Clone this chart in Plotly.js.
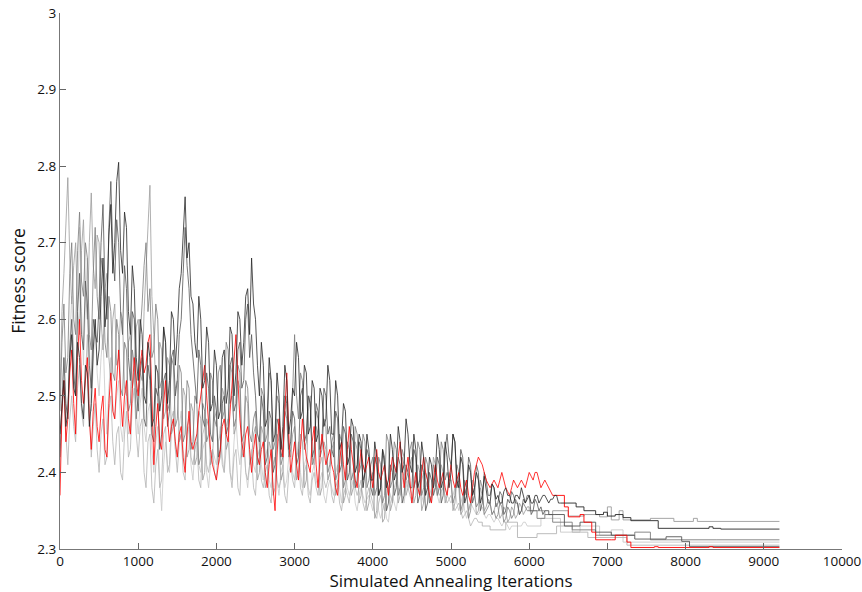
<!DOCTYPE html>
<html>
<head>
<meta charset="utf-8">
<script src="https://cdn.plot.ly/plotly-3.0.1.min.js"></script>
<style>html,body{margin:0;padding:0;background:#fff}#chart{width:862px;height:592px}</style>
</head>
<body>
<div id="chart"></div>
<script>
// iteration spacing of the noisy samples
const sampleStep = 25;
const xTicks = [0,1000,2000,3000,4000,5000,6000,7000,8000,9000,10000];
const yTicks = [2.3,2.4,2.5,2.6,2.7,2.8,2.9,3];

// Run A (black)
const runA = [
2.45,2.49,2.52,2.46,2.48,2.55,2.58,2.51,2.50,2.57,2.55,2.49,2.47,2.54,2.53,2.46,2.49,2.56,2.60,2.54,
2.56,2.63,2.68,2.59,2.62,2.71,2.75,2.66,2.70,2.78,2.805,2.69,2.66,2.74,2.72,2.61,2.58,2.67,2.64,2.55,
2.52,2.60,2.58,2.50,2.49,2.57,2.55,2.46,2.47,2.54,2.53,2.48,2.50,2.59,2.57,2.49,2.52,2.61,2.60,2.54,
2.58,2.64,2.66,2.71,2.76,2.68,2.70,2.63,2.62,2.57,2.55,2.63,2.60,2.51,2.52,2.59,2.57,2.48,2.49,2.56,
2.54,2.47,2.48,2.55,2.56,2.49,2.51,2.59,2.58,2.50,2.53,2.61,2.60,2.54,2.57,2.63,2.64,2.58,2.68,2.62,
2.60,2.54,2.50,2.57,2.54,2.46,2.47,2.55,2.52,2.44,2.45,2.53,2.50,2.43,2.46,2.54,2.52,2.45,2.47,2.51,
2.50,2.57,2.55,2.47,2.48,2.54,2.53,2.45,2.46,2.52,2.51,2.44,2.45,2.51,2.50,2.46,2.47,2.54,2.52,2.45,
2.45,2.52,2.50,2.43,2.44,2.49,2.48,2.41,2.42,2.47,2.46,2.40,2.41,2.45,2.44,2.38,2.40,2.45,2.43,2.39,
2.39,2.44,2.42,2.37,2.38,2.43,2.41,2.38,2.39,2.45,2.43,2.39,2.40,2.46,2.44,2.40,2.41,2.47,2.45,2.41,
2.40,2.45,2.43,2.38,2.39,2.44,2.42,2.37,2.38,2.42,2.41,2.38,2.40,2.45,2.43,2.38,2.39,2.44,2.42,2.38,
2.40,2.45,2.44,2.39,2.38,2.42,2.41,2.36,2.37,2.41,2.40,2.37,2.38,2.40,2.39,2.36,2.37,2.395,2.38,2.36,
2.36,2.385,2.38,2.365,2.37,2.36,2.36,2.375,2.38,2.37,2.37,2.36,2.36,2.37,2.37,2.365,2.38,2.37,2.36,2.365,
2.37,2.36,2.36,2.37,2.37,2.36,2.365,2.37,2.37,2.365,2.36,2.365,2.365,2.37,2.37,2.36,2.36];
const runATailX = [6450,6600,6700,6850,6950,7000,7100,7200,7300,7650,8300,8350,8450,9200];
const runATailY = [2.36,2.355,2.35,2.345,2.348,2.343,2.345,2.341,2.337,2.327,2.329,2.327,2.326,2.326];

// Run B (dark gray)
const runB = [
2.42,2.50,2.55,2.49,2.47,2.56,2.60,2.53,2.50,2.61,2.66,2.58,2.56,2.65,2.62,2.54,2.51,2.60,2.58,2.57,
2.62,2.70,2.75,2.64,2.60,2.72,2.78,2.69,2.65,2.73,2.70,2.61,2.58,2.67,2.64,2.55,2.52,2.61,2.60,2.51,
2.48,2.53,2.55,2.47,2.46,2.54,2.52,2.45,2.44,2.51,2.50,2.43,2.45,2.52,2.53,2.46,2.48,2.55,2.56,2.50,
2.52,2.58,2.60,2.66,2.72,2.67,2.64,2.58,2.55,2.51,2.49,2.56,2.54,2.47,2.46,2.53,2.51,2.45,2.44,2.50,
2.48,2.42,2.43,2.49,2.50,2.45,2.46,2.54,2.55,2.48,2.49,2.56,2.57,2.51,2.52,2.60,2.62,2.55,2.58,2.53,
2.50,2.45,2.44,2.50,2.48,2.41,2.42,2.48,2.47,2.40,2.41,2.47,2.46,2.42,2.43,2.50,2.49,2.43,2.44,2.48,
2.47,2.41,2.42,2.50,2.51,2.44,2.45,2.50,2.49,2.42,2.43,2.49,2.48,2.43,2.44,2.51,2.50,2.45,2.46,2.43,
2.42,2.48,2.47,2.40,2.41,2.46,2.45,2.39,2.40,2.45,2.44,2.38,2.39,2.44,2.43,2.39,2.40,2.43,2.42,2.38,
2.37,2.42,2.41,2.37,2.38,2.43,2.42,2.35,2.36,2.41,2.40,2.37,2.38,2.42,2.41,2.36,2.37,2.41,2.40,2.38,
2.38,2.43,2.42,2.36,2.37,2.41,2.40,2.35,2.36,2.40,2.39,2.37,2.38,2.42,2.41,2.36,2.37,2.43,2.45,2.42,
2.41,2.45,2.44,2.38,2.39,2.43,2.42,2.37,2.38,2.42,2.41,2.36,2.37,2.41,2.40,2.35,2.36,2.40,2.39,2.37,
2.37,2.385,2.38,2.355,2.36,2.375,2.37,2.345,2.35,2.365,2.36,2.375,2.37,2.36,2.36,2.345,2.35,2.365,2.36,2.37,
2.37,2.345,2.35,2.365,2.36,2.35,2.355,2.345,2.35];
const runBTailX = [6250,6450,6650,6850,7050,7350,7750,7950,8050,9200];
const runBTailY = [2.345,2.33,2.335,2.322,2.318,2.313,2.316,2.31,2.303,2.303];

// Run C (medium gray)
const runC = [
2.48,2.57,2.62,2.53,2.55,2.66,2.70,2.60,2.58,2.69,2.74,2.65,2.63,2.70,2.68,2.58,2.56,2.66,2.72,2.63,
2.60,2.68,2.66,2.57,2.55,2.63,2.61,2.53,2.52,2.60,2.58,2.51,2.50,2.57,2.56,2.48,2.49,2.56,2.54,2.47,
2.50,2.58,2.62,2.67,2.70,2.61,2.64,2.55,2.56,2.62,2.60,2.51,2.52,2.59,2.57,2.48,2.49,2.55,2.54,2.46,
2.47,2.54,2.53,2.44,2.45,2.52,2.51,2.43,2.44,2.50,2.49,2.41,2.42,2.49,2.48,2.44,2.45,2.53,2.52,2.47,
2.46,2.53,2.54,2.47,2.48,2.57,2.56,2.49,2.50,2.46,2.47,2.54,2.53,2.44,2.45,2.52,2.51,2.45,2.44,2.47,
2.48,2.41,2.42,2.51,2.50,2.44,2.45,2.53,2.52,2.43,2.44,2.50,2.49,2.41,2.42,2.48,2.47,2.42,2.43,2.52,
2.58,2.50,2.47,2.53,2.52,2.43,2.44,2.50,2.49,2.41,2.42,2.48,2.47,2.42,2.43,2.47,2.46,2.40,2.41,2.44,
2.45,2.39,2.40,2.45,2.44,2.38,2.39,2.44,2.43,2.39,2.40,2.46,2.45,2.40,2.41,2.45,2.44,2.38,2.39,2.41,
2.42,2.37,2.38,2.42,2.41,2.36,2.37,2.45,2.44,2.38,2.39,2.44,2.43,2.37,2.38,2.43,2.42,2.39,2.40,2.43,
2.44,2.38,2.39,2.44,2.43,2.37,2.38,2.42,2.41,2.36,2.37,2.41,2.40,2.37,2.38,2.44,2.43,2.39,2.40,2.39,
2.39,2.36,2.37,2.41,2.40,2.35,2.36,2.39,2.38,2.34,2.35,2.38,2.37,2.355,2.36,2.39,2.38,2.345,2.35,2.355,
2.36,2.345,2.35,2.34,2.345,2.36,2.355,2.335,2.34,2.355,2.35,2.34,2.345,2.365,2.36,2.345,2.35,2.36,2.355,2.35];
const runCTailX = [6000,6100,6200,6300,6550,6850,7350,7550,8400,9200];
const runCTailY = [2.35,2.34,2.345,2.335,2.325,2.318,2.322,2.312,2.312,2.312];

// Run D (light gray)
const runD = [
2.50,2.61,2.66,2.72,2.785,2.68,2.62,2.67,2.70,2.61,2.58,2.69,2.73,2.64,2.60,2.70,2.765,2.67,2.64,2.71,
2.70,2.60,2.56,2.64,2.66,2.55,2.52,2.60,2.62,2.54,2.55,2.61,2.60,2.51,2.50,2.57,2.58,2.51,2.53,2.59,
2.60,2.53,2.52,2.61,2.66,2.72,2.775,2.63,2.58,2.51,2.50,2.57,2.56,2.47,2.48,2.55,2.54,2.45,2.46,2.51,
2.52,2.44,2.45,2.51,2.50,2.42,2.43,2.49,2.48,2.41,2.42,2.48,2.47,2.39,2.40,2.47,2.46,2.41,2.42,2.47,
2.48,2.41,2.42,2.51,2.50,2.43,2.44,2.54,2.53,2.45,2.46,2.52,2.51,2.42,2.43,2.50,2.49,2.41,2.42,2.45,
2.46,2.39,2.40,2.46,2.45,2.38,2.39,2.44,2.43,2.37,2.38,2.45,2.44,2.39,2.40,2.48,2.50,2.43,2.42,2.45,
2.46,2.39,2.40,2.45,2.44,2.38,2.39,2.48,2.50,2.42,2.41,2.46,2.45,2.37,2.38,2.44,2.43,2.39,2.40,2.43,
2.44,2.37,2.38,2.43,2.42,2.36,2.37,2.42,2.41,2.37,2.38,2.44,2.43,2.36,2.37,2.41,2.40,2.35,2.36,2.39,
2.40,2.34,2.35,2.40,2.39,2.335,2.34,2.39,2.38,2.35,2.36,2.41,2.40,2.36,2.37,2.42,2.41,2.37,2.38,2.41,
2.42,2.36,2.37,2.41,2.40,2.35,2.36,2.40,2.39,2.36,2.37,2.42,2.41,2.37,2.38,2.41,2.40,2.36,2.37,2.40,
2.39,2.35,2.36,2.39,2.38,2.345,2.35,2.38,2.37,2.35,2.36,2.39,2.38,2.345,2.35,2.38,2.37,2.35,2.355,2.365,
2.36,2.345,2.35,2.36,2.355,2.34,2.345,2.355,2.35,2.335,2.34,2.355,2.35,2.34,2.345,2.36,2.355,2.345,2.35,2.355];
const runDTailX = [6000,6200,6300,6500,6700,6900,7000,7050,7150,7200,7550,7850,8100,8150,9200];
const runDTailY = [2.35,2.345,2.35,2.343,2.345,2.342,2.355,2.338,2.35,2.338,2.34,2.336,2.34,2.336,2.336];

// Run E (lighter gray)
const runE = [
2.44,2.49,2.52,2.45,2.41,2.47,2.50,2.46,2.44,2.51,2.54,2.48,2.46,2.53,2.58,2.49,2.42,2.46,2.49,2.43,
2.40,2.45,2.47,2.41,2.42,2.48,2.50,2.44,2.41,2.45,2.46,2.40,2.39,2.45,2.48,2.42,2.43,2.49,2.51,2.45,
2.42,2.46,2.47,2.40,2.38,2.44,2.45,2.38,2.36,2.41,2.43,2.38,2.39,2.45,2.46,2.40,2.41,2.47,2.48,2.43,
2.40,2.44,2.45,2.40,2.39,2.46,2.47,2.42,2.41,2.43,2.44,2.39,2.38,2.45,2.46,2.41,2.40,2.42,2.43,2.40,
2.39,2.44,2.45,2.41,2.40,2.46,2.47,2.40,2.38,2.42,2.43,2.38,2.37,2.43,2.44,2.40,2.39,2.41,2.42,2.38,
2.37,2.42,2.43,2.39,2.38,2.40,2.41,2.37,2.36,2.41,2.42,2.39,2.38,2.39,2.40,2.37,2.36,2.40,2.41,2.39,
2.38,2.42,2.43,2.38,2.37,2.40,2.41,2.37,2.36,2.39,2.40,2.38,2.37,2.41,2.42,2.39,2.38,2.39,2.40,2.37,
2.36,2.38,2.39,2.36,2.35,2.37,2.38,2.37,2.36,2.39,2.40,2.38,2.37,2.38,2.39,2.36,2.35,2.37,2.38,2.37,
2.36,2.345,2.34,2.36,2.37,2.36,2.35,2.37,2.38,2.37,2.36,2.38,2.39,2.38,2.37,2.39,2.40,2.39,2.38,2.37,
2.36,2.38,2.39,2.38,2.37,2.39,2.40,2.39,2.38,2.37,2.36,2.38,2.39,2.38,2.37,2.375,2.38,2.37,2.36,2.365,
2.37,2.36,2.35,2.355,2.36,2.35,2.34,2.345,2.35,2.34,2.33,2.335,2.34,2.34,2.335];
const runETailX = [5400,5500,5700,5850,6100,6350,6550,6750,7250,9200];
const runETailY = [2.33,2.325,2.335,2.315,2.32,2.33,2.322,2.315,2.305,2.305];

// Run F (palest gray)
const runF = [
2.40,2.50,2.55,2.49,2.47,2.57,2.63,2.56,2.50,2.62,2.72,2.61,2.54,2.62,2.68,2.57,2.48,2.54,2.60,2.53,
2.50,2.55,2.58,2.50,2.45,2.51,2.55,2.49,2.47,2.50,2.52,2.46,2.44,2.48,2.50,2.45,2.46,2.51,2.53,2.48,
2.45,2.49,2.51,2.46,2.44,2.48,2.49,2.43,2.40,2.44,2.46,2.39,2.35,2.41,2.44,2.41,2.40,2.45,2.47,2.43,
2.42,2.46,2.48,2.43,2.41,2.44,2.46,2.41,2.39,2.43,2.45,2.41,2.40,2.43,2.44,2.40,2.38,2.41,2.43,2.42,
2.41,2.44,2.46,2.42,2.40,2.43,2.44,2.40,2.39,2.44,2.47,2.43,2.41,2.44,2.45,2.40,2.38,2.41,2.43,2.41,
2.40,2.43,2.45,2.41,2.39,2.42,2.43,2.39,2.38,2.41,2.42,2.39,2.37,2.40,2.41,2.38,2.39,2.42,2.43,2.40,
2.39,2.42,2.44,2.40,2.38,2.41,2.42,2.38,2.37,2.40,2.41,2.39,2.38,2.39,2.40,2.37,2.36,2.38,2.39,2.38,
2.37,2.40,2.41,2.38,2.36,2.39,2.40,2.38,2.37,2.38,2.39,2.36,2.35,2.37,2.38,2.37,2.36,2.365,2.37,2.36,
2.35,2.37,2.38,2.35,2.34,2.35,2.36,2.34,2.335,2.36,2.37,2.36,2.35,2.37,2.38,2.37,2.36,2.38,2.39,2.38,
2.37,2.39,2.40,2.39,2.38,2.37,2.36,2.38,2.39,2.38,2.37,2.375,2.38,2.37,2.36,2.375,2.385,2.38,2.37,2.365,
2.36,2.37,2.38,2.36,2.35,2.36,2.37,2.35,2.34,2.35,2.36,2.355,2.35,2.345,2.345,2.35,2.355,2.345,2.34,2.345,
2.345,2.34,2.335,2.34,2.34,2.335,2.33,2.335,2.335,2.33,2.325,2.33,2.33,2.33,2.33,2.33,2.33,2.335,2.335,2.33];
const runFTailX = [6000,6150,6400,6650,6900,7050,7200,9200];
const runFTailY = [2.33,2.34,2.322,2.33,2.318,2.325,2.309,2.309];

// Run R (red)
const runR = [
2.37,2.48,2.52,2.44,2.47,2.53,2.56,2.49,2.45,2.55,2.60,2.52,2.49,2.52,2.55,2.47,2.43,2.48,2.51,2.46,
2.44,2.48,2.50,2.43,2.42,2.49,2.53,2.48,2.47,2.52,2.56,2.50,2.46,2.50,2.52,2.47,2.45,2.51,2.55,2.52,
2.50,2.54,2.56,2.53,2.54,2.57,2.58,2.50,2.41,2.46,2.49,2.44,2.43,2.49,2.52,2.47,2.44,2.46,2.47,2.44,
2.42,2.45,2.46,2.42,2.40,2.45,2.48,2.44,2.43,2.44,2.45,2.48,2.50,2.52,2.54,2.50,2.46,2.43,2.41,2.40,
2.39,2.41,2.43,2.46,2.47,2.45,2.44,2.48,2.51,2.55,2.58,2.52,2.47,2.44,2.42,2.45,2.46,2.43,2.40,2.43,
2.45,2.42,2.41,2.43,2.44,2.40,2.38,2.41,2.43,2.38,2.35,2.42,2.47,2.44,2.42,2.48,2.53,2.45,2.40,2.42,
2.44,2.41,2.39,2.43,2.47,2.44,2.42,2.41,2.40,2.44,2.46,2.41,2.38,2.42,2.45,2.43,2.41,2.42,2.43,2.41,
2.40,2.38,2.37,2.41,2.44,2.41,2.39,2.43,2.46,2.43,2.41,2.39,2.38,2.41,2.43,2.41,2.40,2.41,2.42,2.40,
2.38,2.41,2.43,2.40,2.39,2.40,2.41,2.39,2.37,2.40,2.42,2.41,2.40,2.42,2.44,2.41,2.38,2.40,2.42,2.39,
2.36,2.38,2.40,2.38,2.37,2.40,2.42,2.40,2.39,2.37,2.36,2.39,2.41,2.39,2.38,2.39,2.40,2.38,2.37,2.39,
2.41,2.39,2.38,2.39,2.40,2.38,2.37,2.38,2.39,2.37,2.36,2.38,2.40,2.41,2.42,2.415,2.41,2.40,2.39,2.385,
2.38,2.385,2.39,2.385,2.38,2.39,2.40,2.39,2.38,2.375,2.37,2.38,2.39,2.385,2.38,2.385,2.39,2.385,2.38,2.39,
2.40,2.395,2.39,2.40,2.40,2.39,2.38,2.385,2.39,2.385,2.38,2.375,2.37];
const runRTailX = [6350,6450,6500,6650,6700,6800,6850,7050,7100,7200,7250,7300,7600,7650,8300,8350,9200];
const runRTailY = [2.37,2.355,2.342,2.345,2.335,2.322,2.312,2.312,2.318,2.318,2.309,2.302,2.303,2.302,2.303,2.302,2.302];

const runs = [
  {y: runF, tx: runFTailX, ty: runFTailY, color: '#c8c8c8'},
  {y: runE, tx: runETailX, ty: runETailY, color: '#b4b4b4'},
  {y: runD, tx: runDTailX, ty: runDTailY, color: '#9c9c9c'},
  {y: runC, tx: runCTailX, ty: runCTailY, color: '#7c7c7c'},
  {y: runB, tx: runBTailX, ty: runBTailY, color: '#555555'},
  {y: runR, tx: runRTailX, ty: runRTailY, color: '#ff0000'},
  {y: runA, tx: runATailX, ty: runATailY, color: '#262626'}
];

const traces = [];
runs.forEach(r => {
  const xs = r.y.map((_, i) => i * sampleStep);
  traces.push({x: xs, y: r.y, type: 'scatter', mode: 'lines',
    line: {color: r.color, width: 0.8}, hoverinfo: 'skip', showlegend: false});
  const lastX = xs[xs.length - 1], lastY = r.y[r.y.length - 1];
  traces.push({x: [lastX].concat(r.tx), y: [lastY].concat(r.ty), type: 'scatter', mode: 'lines',
    line: {color: r.color, width: 0.9, shape: 'hv'}, hoverinfo: 'skip', showlegend: false});
});

const fontFam = '"Open Sans", "Noto Sans", sans-serif';
const layout = {
  width: 862, height: 592,
  margin: {l: 60, r: 20, t: 13, b: 43},
  paper_bgcolor: '#fff', plot_bgcolor: '#fff',
  font: {family: fontFam, color: '#111', size: 13},
  xaxis: {
    range: [0, 10000], tickvals: xTicks, ticktext: xTicks.map(String),
    ticks: 'inside', ticklen: 6, tickcolor: '#666', tickwidth: 1,
    showline: true, linecolor: '#777', linewidth: 1, mirror: false,
    showgrid: false, zeroline: false,
    tickfont: {size: 13.5, family: fontFam, color: '#111'},
    title: {text: 'Simulated Annealing Iterations', font: {size: 17, family: fontFam, color: '#111'}, standoff: 6}
  },
  yaxis: {
    range: [2.3, 3], tickvals: yTicks, ticktext: yTicks.map(v => String(v)),
    ticks: 'inside', ticklen: 6, tickcolor: '#666', tickwidth: 1,
    showline: true, linecolor: '#777', linewidth: 1, mirror: false,
    showgrid: false, zeroline: false,
    tickfont: {size: 13.5, family: fontFam, color: '#111'},
    title: {text: 'Fitness score', font: {size: 17.5, family: fontFam, color: '#111'}, standoff: 7}
  }
};

Plotly.newPlot('chart', traces, layout, {staticPlot: true, displayModeBar: false});
</script>
</body>
</html>
